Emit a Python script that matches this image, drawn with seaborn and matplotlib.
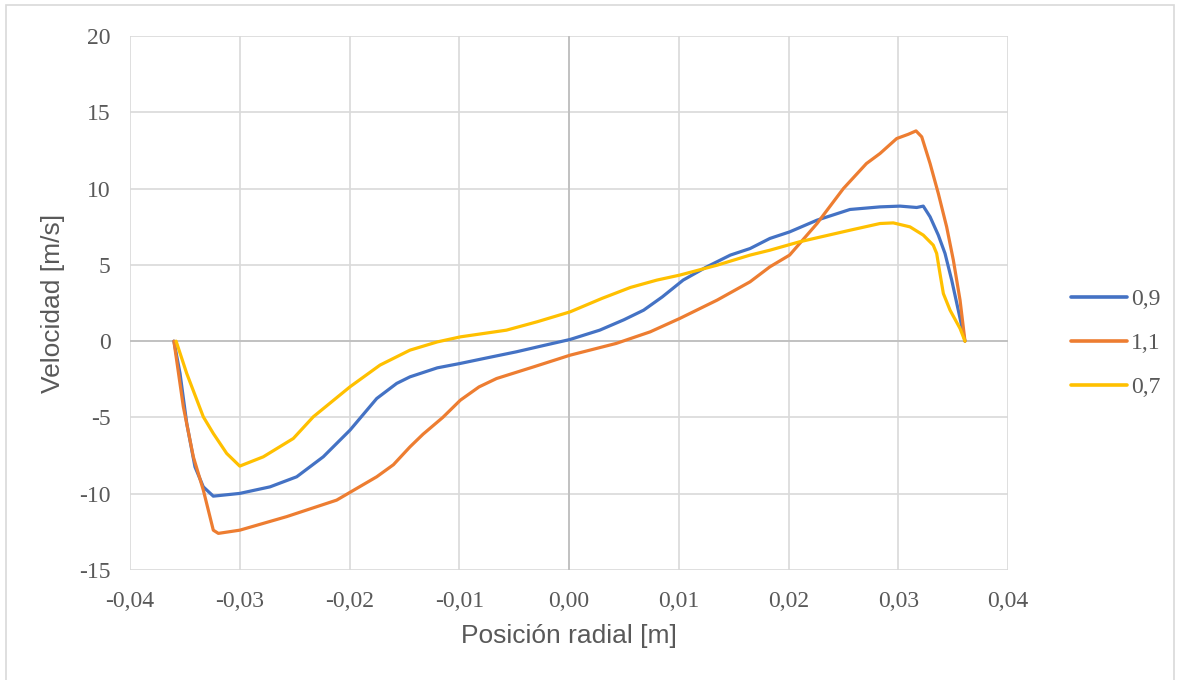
import numpy as np
import pandas as pd
import matplotlib
matplotlib.use("Agg")
import matplotlib.pyplot as plt
import seaborn as sns
from matplotlib.patches import Rectangle

# ---- data ----
x_09 = [-0.0360, -0.03544, -0.03483, -0.03408, -0.03332, -0.03241, -0.0300, -0.02724, -0.02481,
        -0.02239, -0.01995, -0.01752, -0.0157, -0.01449, -0.0120, -0.0099, -0.0075, -0.0048,
        -0.0024, 0.0001, 0.0028, 0.0050, 0.0068, 0.0085, 0.0104, 0.0125, 0.0147, 0.0165,
        0.0183, 0.0201, 0.0226, 0.0256, 0.02834, 0.03016, 0.03168, 0.03228, 0.0329, 0.03365,
        0.03426, 0.03487, 0.03547, 0.03608]
v_09 = [0.0, -2.12, -5.39, -8.24, -9.55, -10.16, -9.98, -9.55, -8.89,
        -7.58, -5.83, -3.76, -2.77, -2.34, -1.75, -1.46, -1.1, -0.70,
        -0.3, 0.11, 0.72, 1.4, 2.03, 2.9, 4.0, 4.85, 5.64, 6.07,
        6.73, 7.16, 7.93, 8.63, 8.8, 8.85, 8.76, 8.85, 8.15, 6.95,
        5.75, 4.0, 2.03, 0.0]

x_11 = [-0.0360, -0.03514, -0.03423, -0.03332, -0.03241, -0.03195, -0.0300, -0.02572, -0.02117,
        -0.01752, -0.0160, -0.01449, -0.0133, -0.0115, -0.0099, -0.0082, -0.0066, -0.0032,
        0.0001, 0.0043, 0.0074, 0.0101, 0.0135, 0.0165, 0.0183, 0.0201, 0.0226, 0.0250,
        0.0271, 0.02834, 0.02986, 0.03092, 0.03162, 0.03214, 0.0329, 0.03365, 0.03441,
        0.03502, 0.03563, 0.03608]
v_11 = [0.0, -4.3, -7.58, -9.76, -12.39, -12.6, -12.39, -11.5, -10.42,
        -8.89, -8.1, -6.93, -6.1, -5.0, -3.87, -3.0, -2.45, -1.68,
        -0.92, -0.15, 0.61, 1.49, 2.69, 3.89, 4.87, 5.64, 7.71, 10.0,
        11.64, 12.3, 13.28, 13.56, 13.78, 13.39, 11.64, 9.68, 7.49,
        5.31, 2.69, 0.0]

x_07 = [-0.0358, -0.03483, -0.03332, -0.03241, -0.03119, -0.0300, -0.02785, -0.02512, -0.0233,
        -0.01995, -0.01722, -0.01449, -0.0120, -0.0099, -0.0057, -0.0029, 0.0001, 0.0030,
        0.0056, 0.0080, 0.0101, 0.0135, 0.0165, 0.0183, 0.0210, 0.0256, 0.02834, 0.02955,
        0.03107, 0.03228, 0.03319, 0.0335, 0.0338, 0.03411, 0.03472, 0.03563, 0.03608]
v_07 = [0.0, -2.12, -4.96, -6.05, -7.36, -8.19, -7.58, -6.38, -4.96,
        -2.99, -1.57, -0.59, -0.05, 0.28, 0.72, 1.27, 1.92, 2.8,
        3.52, 4.0, 4.33, 4.98, 5.64, 5.96, 6.51, 7.27, 7.71, 7.75,
        7.49, 6.95, 6.29, 5.75, 4.44, 3.12, 2.03, 0.83, 0.0]

series_names = ["0,9", "1,1", "0,7"]
series_colors = ["#4472C4", "#ED7D31", "#FFC000"]
x_ticks = [-0.04, -0.03, -0.02, -0.01, 0.00, 0.01, 0.02, 0.03, 0.04]
x_tick_labels = ["-0,04", "-0,03", "-0,02", "-0,01", "0,00", "0,01", "0,02", "0,03", "0,04"]
y_ticks = [-15, -10, -5, 0, 5, 10, 15, 20]
x_title = "Posición radial [m]"
y_title = "Velocidad [m/s]"

frames = []
for name, xs, vs in zip(series_names, [x_09, x_11, x_07], [v_09, v_11, v_07]):
    frames.append(pd.DataFrame({"x": xs, "v": vs, "serie": name}))
df = pd.concat(frames, ignore_index=True)

sns.set_style("white")
plt.rcParams["font.family"] = ["Liberation Serif", "DejaVu Serif"]

fig = plt.figure(figsize=(11.8, 6.8), dpi=100)
ax = fig.add_axes([130 / 1180, 1 - 570 / 680, (1008 - 130) / 1180, (570 - 36) / 680])

sns.lineplot(data=df, x="x", y="v", hue="serie", hue_order=series_names,
             palette=dict(zip(series_names, series_colors)), sort=False,
             estimator=None, linewidth=2.3, ax=ax, legend=True)
for ln in ax.get_lines():
    ln.set_solid_joinstyle("round")
    ln.set_solid_capstyle("round")

ax.set_xlim(-0.04, 0.04)
ax.set_ylim(-15, 20)
ax.set_xticks(x_ticks)
ax.set_xticklabels(x_tick_labels)
ax.set_yticks(y_ticks)
ax.set_yticklabels([str(t) for t in y_ticks])
ax.tick_params(axis="both", length=0, labelsize=17, labelcolor="#595959")
ax.tick_params(axis="x", pad=15)
ax.tick_params(axis="y", pad=14)
ax.grid(True, color="#d9d9d9", linewidth=1.2)
ax.set_axisbelow(True)
for s in ax.spines.values():
    s.set_visible(False)
ax.axhline(0, color="#bfbfbf", linewidth=1.3, zorder=1)
ax.axvline(0, color="#bfbfbf", linewidth=1.3, zorder=1)

ax.set_xlabel(x_title, fontsize=19, color="#595959", family=["Liberation Sans", "DejaVu Sans"], labelpad=9)
ax.set_ylabel(y_title, fontsize=19, color="#595959", family=["Liberation Sans", "DejaVu Sans"], labelpad=10)

leg = ax.legend(loc="center left", bbox_to_anchor=(1.047, 0.425), frameon=False,
                fontsize=17, handlelength=2.4, handletextpad=0.15, labelspacing=0.95,
                title=None)
for t in leg.get_texts():
    t.set_color("#595959")
for h in leg.get_lines():
    h.set_linewidth(2.6)

fig.patches.append(Rectangle((6 / 1180, -0.02), 1168 / 1180, 1 - 5 / 680 + 0.02,
                             transform=fig.transFigure, fill=False,
                             edgecolor="#d9d9d9", linewidth=1.2))

fig.savefig("out.png", dpi=100, facecolor="white")
